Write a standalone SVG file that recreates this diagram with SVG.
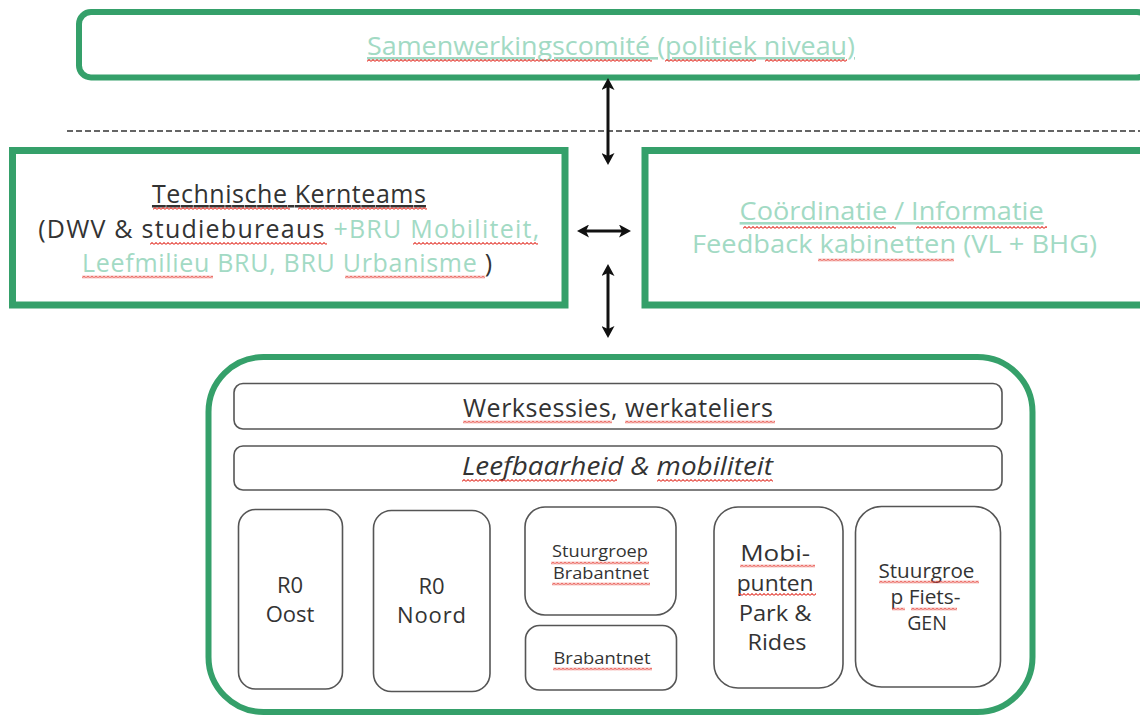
<svg xmlns="http://www.w3.org/2000/svg" width="1140" height="715" viewBox="0 0 1140 715">
  <style>
    .g { fill: none; stroke: #35a06a; }
    .ib { fill: #ffffff; stroke: #555555; stroke-width: 1.6; }
    .t { font-family: "Open Sans", "Noto Sans", "DejaVu Sans", sans-serif; fill: #333333; text-anchor: middle; }
    .m { fill: #a2dac4; }
    .d { fill: #333333; }
    .conn { stroke: #111111; stroke-width: 3; fill: none; }
    .sq { fill: url(#wave); }
  </style>
  <defs>
    <marker id="ah" viewBox="0 0 12 13" markerWidth="12" markerHeight="13" refX="4" refY="6.5" orient="auto-start-reverse" markerUnits="userSpaceOnUse">
      <path d="M0,0 L12,6.5 L0,13 L3,6.5 z" fill="#111111"/>
    </marker>
    <pattern id="wave" patternUnits="userSpaceOnUse" width="4" height="3">
      <path d="M0,2.4 L2,0.6 L4,2.4" fill="none" stroke="#e5453c" stroke-width="1.1"/>
    </pattern>
  </defs>
  <rect width="1140" height="715" fill="#ffffff"/>

  <g id="samenwerkingscomite">
    <rect class="g" x="79" y="12" width="1070" height="65.5" rx="12" stroke-width="6"/>
    <text class="t m" x="611" y="55" font-size="26" textLength="488" lengthAdjust="spacingAndGlyphs" text-decoration="underline">Samenwerkingscomité (politiek niveau)</text>
  </g>

  <line x1="67" y1="131" x2="1140" y2="131" stroke="#333333" stroke-width="1.5" stroke-dasharray="6 3"/>

  <g id="technische-kernteams">
    <rect class="g" x="12.5" y="150.5" width="552.5" height="154.5" stroke-width="7"/>
    <text class="t" font-size="25">
      <tspan x="292.5" y="203" textLength="274" text-decoration="underline">Technische Kernteams</tspan>
      <tspan x="292.5" y="238" textLength="501"><tspan class="d">(DWV &amp; studiebureaus </tspan><tspan class="m">+BRU Mobiliteit,</tspan></tspan>
      <tspan x="287" y="272" textLength="410"><tspan class="m">Leefmilieu BRU, BRU Urbanisme</tspan><tspan class="d"> )</tspan></tspan>
    </text>
  </g>

  <g id="coordinatie">
    <rect class="g" x="645" y="150.5" width="510" height="154.5" stroke-width="7"/>
    <text class="t m" font-size="26">
      <tspan x="895" y="220" textLength="304" lengthAdjust="spacingAndGlyphs" text-decoration="underline">Coördinatie / Informatie</tspan>
      <tspan x="894.5" y="253" textLength="405" lengthAdjust="spacingAndGlyphs">Feedback kabinetten (VL + BHG)</tspan>
    </text>
  </g>

  <g id="werkgroepen">
    <rect class="g" x="208.5" y="357" width="824" height="355" rx="55" stroke-width="6"/>
  </g>

  <g id="werksessies">
    <rect class="ib" x="234" y="383.5" width="768" height="45.5" rx="9"/>
    <text class="t" x="618" y="417" font-size="25" textLength="310">Werksessies, werkateliers</text>
  </g>

  <g id="leefbaarheid">
    <rect class="ib" x="234" y="446" width="768" height="44" rx="9"/>
    <text class="t" x="617.5" y="475" font-size="26" font-style="italic" textLength="311" lengthAdjust="spacingAndGlyphs">Leefbaarheid &amp; mobiliteit</text>
  </g>

  <g id="r0-oost">
    <rect class="ib" x="238.5" y="509.5" width="104" height="179.5" rx="17"/>
    <text class="t" font-size="22"><tspan x="290" y="593">R0</tspan><tspan x="290" y="622">Oost</tspan></text>
  </g>

  <g id="r0-noord">
    <rect class="ib" x="373.5" y="510.5" width="116.5" height="181" rx="18"/>
    <text class="t" font-size="22"><tspan x="431.5" y="594">R0</tspan><tspan x="431.5" y="623" textLength="69">Noord</tspan></text>
  </g>

  <g id="stuurgroep-brabantnet">
    <rect class="ib" x="525" y="507" width="151" height="108" rx="20"/>
    <text class="t" font-size="16.5"><tspan x="600" y="557" textLength="96" lengthAdjust="spacingAndGlyphs">Stuurgroep</tspan><tspan x="601" y="579" textLength="96" lengthAdjust="spacingAndGlyphs">Brabantnet</tspan></text>
  </g>

  <g id="brabantnet">
    <rect class="ib" x="525.5" y="625.5" width="151" height="64.5" rx="14"/>
    <text class="t" x="602" y="664" font-size="17" textLength="97" lengthAdjust="spacingAndGlyphs">Brabantnet</text>
  </g>

  <g id="mobipunten">
    <rect class="ib" x="714" y="507" width="129" height="181" rx="24"/>
    <text class="t" font-size="22">
      <tspan x="778" y="561" textLength="70" lengthAdjust="spacingAndGlyphs">Mobi-</tspan>
      <tspan x="778" y="591" textLength="77" lengthAdjust="spacingAndGlyphs">punten</tspan>
      <tspan x="778" y="621" textLength="73" lengthAdjust="spacingAndGlyphs">Park &amp;</tspan>
      <tspan x="777" y="650" textLength="59" lengthAdjust="spacingAndGlyphs">Rides</tspan>
    </text>
  </g>

  <g id="stuurgroep-fiets-gen">
    <rect class="ib" x="855.5" y="506.5" width="145" height="180.5" rx="26"/>
    <text class="t" font-size="19.5">
      <tspan x="929" y="578" textLength="96" lengthAdjust="spacingAndGlyphs">Stuurgroe</tspan>
      <tspan x="928" y="604" textLength="70" lengthAdjust="spacingAndGlyphs">p Fiets-</tspan>
      <tspan x="927" y="630">GEN</tspan>
    </text>
  </g>

  <g id="connectors">
    <line class="conn" x1="608" y1="86" x2="608" y2="157" marker-start="url(#ah)" marker-end="url(#ah)"/>
    <line class="conn" x1="585" y1="231" x2="623" y2="231" marker-start="url(#ah)" marker-end="url(#ah)"/>
    <line class="conn" x1="608" y1="272" x2="608" y2="330" marker-start="url(#ah)" marker-end="url(#ah)"/>
  </g>

  <g id="spellcheck">
    <rect class="sq" transform="translate(367,59)" width="285" height="3"/>
    <rect class="sq" transform="translate(665,59)" width="91" height="3"/>
    <rect class="sq" transform="translate(765,59)" width="82" height="3"/>
    <rect class="sq" transform="translate(153,207)" width="137" height="3"/>
    <rect class="sq" transform="translate(298,207)" width="129" height="3"/>
    <rect class="sq" transform="translate(150,242)" width="177" height="3"/>
    <rect class="sq" transform="translate(413,242)" width="125" height="3"/>
    <rect class="sq" transform="translate(82,275.5)" width="131" height="3"/>
    <rect class="sq" transform="translate(345,275.5)" width="140" height="3"/>
    <rect class="sq" transform="translate(743,226)" width="153" height="3"/>
    <rect class="sq" transform="translate(916,226)" width="131" height="3"/>
    <rect class="sq" transform="translate(818,258.5)" width="136" height="3"/>
    <rect class="sq" transform="translate(463,420.5)" width="149" height="3"/>
    <rect class="sq" transform="translate(625,420.5)" width="150" height="3"/>
    <rect class="sq" transform="translate(462,479)" width="155" height="3"/>
    <rect class="sq" transform="translate(657,479)" width="116" height="3"/>
    <rect class="sq" transform="translate(551,561.5)" width="98" height="3"/>
    <rect class="sq" transform="translate(552,582.5)" width="98" height="3"/>
    <rect class="sq" transform="translate(553,667.5)" width="99" height="3"/>
    <rect class="sq" transform="translate(740,564.5)" width="75" height="3"/>
    <rect class="sq" transform="translate(738,593)" width="78" height="3"/>
    <rect class="sq" transform="translate(879,580.5)" width="100" height="3"/>
    <rect class="sq" transform="translate(892,607.5)" width="13" height="3"/>
    <rect class="sq" transform="translate(911,607.5)" width="46" height="3"/>
  </g>
</svg>
